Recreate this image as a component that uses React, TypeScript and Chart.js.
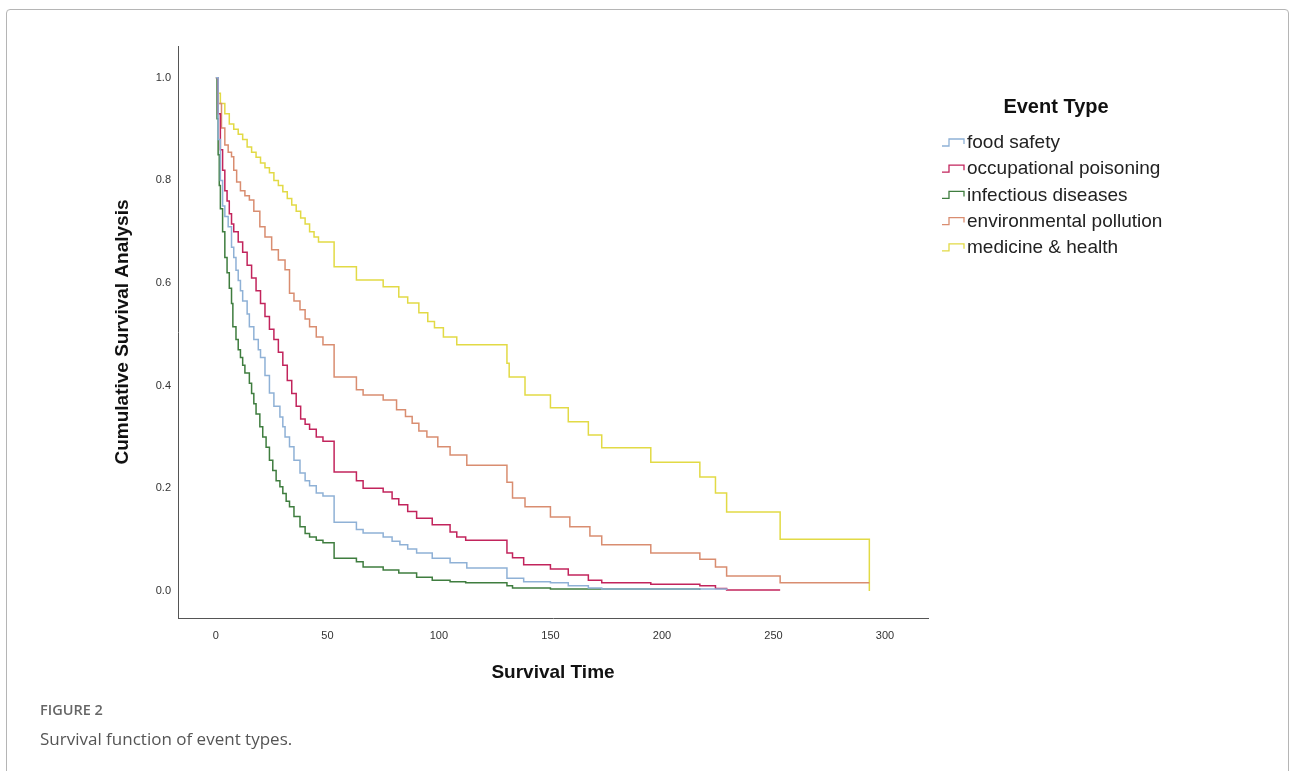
import React, { useEffect, useRef } from 'react';
import { Chart, registerables } from 'chart.js';

Chart.register(...registerables);

const seriesLabels = ['food safety', 'occupational poisoning', 'infectious diseases', 'environmental pollution', 'medicine & health'];
const seriesColors = ['#8fb1d6', '#c2245c', '#3f7d3f', '#d98d70', '#e2da45'];
const legendTitle = 'Event Type';
const xTitle = 'Survival Time';
const yTitle = 'Cumulative Survival Analysis';

const xTicks = [0, 50, 100, 150, 200, 250, 300];
const yTicks = [0, 0.2, 0.4, 0.6, 0.8, 1.0];

// food safety
const foodTime = [0, 1, 2, 3, 4, 5.5, 7, 8, 9, 10, 11, 12, 14, 15, 17, 19, 20, 22, 24, 26, 28.7, 30, 31, 33, 35, 37.7, 40, 42, 45, 48, 53, 63, 66, 75, 79, 82.5, 86, 90, 97, 105, 112.5, 130.5, 138, 150, 158, 167, 173, 229];
const foodSurv = [1.0, 0.88, 0.8, 0.75, 0.73, 0.71, 0.67, 0.65, 0.625, 0.605, 0.585, 0.565, 0.54, 0.515, 0.49, 0.47, 0.455, 0.42, 0.386, 0.36, 0.339, 0.32, 0.3, 0.281, 0.255, 0.23, 0.215, 0.205, 0.191, 0.185, 0.134, 0.12, 0.113, 0.105, 0.097, 0.09, 0.082, 0.074, 0.064, 0.055, 0.045, 0.025, 0.018, 0.016, 0.01, 0.006, 0.004, 0.002];

// occupational poisoning
const occTime = [0, 1, 2, 3, 4, 5, 6, 7, 8, 10, 12, 14, 16, 18, 20, 22, 24, 26, 28, 30, 32, 34, 36, 38, 40, 42, 45, 48, 53, 63, 66, 75, 79, 82, 86, 90, 97, 105, 108, 112, 130.5, 133, 138, 150, 158, 167, 173, 195, 217, 224, 229, 253];
const occSurv = [1.0, 0.93, 0.86, 0.82, 0.78, 0.76, 0.735, 0.715, 0.7, 0.68, 0.66, 0.635, 0.61, 0.585, 0.56, 0.535, 0.51, 0.49, 0.465, 0.44, 0.41, 0.385, 0.36, 0.335, 0.325, 0.315, 0.3, 0.292, 0.232, 0.215, 0.2, 0.193, 0.18, 0.168, 0.155, 0.142, 0.129, 0.115, 0.105, 0.099, 0.074, 0.065, 0.051, 0.043, 0.031, 0.021, 0.016, 0.013, 0.01, 0.005, 0.002, 0.002];

// infectious diseases
const infTime = [0, 0.5, 1, 1.5, 2, 3, 4, 5, 6, 7, 7.6, 9, 10, 11, 12, 13, 15, 16, 17, 18, 19.7, 21, 22.5, 24, 25.5, 27, 28.7, 30, 31.5, 33, 35, 37.7, 40, 42, 45, 48, 53, 63, 66, 75, 82, 90, 97, 105, 112, 130.5, 133, 150, 217];
const infSurv = [1.0, 0.92, 0.85, 0.79, 0.745, 0.7, 0.65, 0.62, 0.59, 0.56, 0.515, 0.49, 0.47, 0.455, 0.44, 0.425, 0.405, 0.385, 0.365, 0.345, 0.32, 0.3, 0.28, 0.255, 0.235, 0.215, 0.203, 0.19, 0.175, 0.164, 0.145, 0.125, 0.112, 0.105, 0.099, 0.094, 0.064, 0.057, 0.047, 0.041, 0.035, 0.027, 0.021, 0.018, 0.016, 0.01, 0.006, 0.004, 0.002];

// environmental pollution
const envTime = [0, 1, 2.5, 4, 5.5, 7, 8, 9.3, 11, 13, 15, 17, 19.7, 22, 25, 28, 31, 33, 35, 37.7, 40, 42, 45, 48, 53, 63, 66, 75, 81, 85, 88, 91, 94.6, 99.5, 105, 112.5, 130.5, 133, 138.6, 150, 158.7, 167.7, 173, 195, 217, 224, 229, 253, 293];
const envSurv = [1.0, 0.95, 0.902, 0.869, 0.855, 0.846, 0.82, 0.797, 0.78, 0.77, 0.762, 0.74, 0.71, 0.69, 0.665, 0.645, 0.626, 0.58, 0.565, 0.548, 0.53, 0.515, 0.495, 0.48, 0.417, 0.392, 0.382, 0.372, 0.353, 0.34, 0.327, 0.312, 0.3, 0.281, 0.265, 0.245, 0.212, 0.181, 0.164, 0.144, 0.125, 0.107, 0.09, 0.074, 0.062, 0.047, 0.029, 0.016, 0.016];

// medicine & health
const medTime = [0, 1, 2, 4, 6, 8, 10, 12, 14, 16, 18, 20, 22, 24, 26, 28, 30, 32, 34, 36, 38, 40, 42, 44, 46, 53, 63, 75, 82, 86, 91, 95, 98, 102, 108, 130.5, 131.5, 138.6, 150, 158, 167, 173, 195, 217, 224, 229, 253, 293];
const medSurv = [1.0, 0.97, 0.95, 0.93, 0.91, 0.9, 0.89, 0.88, 0.865, 0.855, 0.845, 0.834, 0.825, 0.815, 0.8, 0.79, 0.778, 0.765, 0.752, 0.74, 0.727, 0.715, 0.7, 0.69, 0.68, 0.632, 0.606, 0.593, 0.573, 0.561, 0.542, 0.525, 0.513, 0.495, 0.48, 0.444, 0.417, 0.382, 0.357, 0.33, 0.304, 0.279, 0.251, 0.222, 0.191, 0.154, 0.101, 0.0];

const seriesTimes = [foodTime, occTime, infTime, envTime, medTime];
const seriesSurv = [foodSurv, occSurv, infSurv, envSurv, medSurv];

const FONT = '"Liberation Sans", Arial, sans-serif';

const stepLegend = {
  id: 'stepLegend',
  afterDraw(chart: any) {
    const ctx = chart.ctx;
    const area = chart.chartArea;
    const x0 = area.right + 14;
    ctx.save();
    ctx.fillStyle = '#111';
    ctx.font = `bold 20px ${FONT}`;
    ctx.textAlign = 'center';
    ctx.textBaseline = 'middle';
    ctx.fillText(legendTitle, x0 + 114, area.top + 61);
    chart.data.datasets.forEach((ds: any, i: number) => {
      const y = area.top + 97 + i * 26.2;
      ctx.strokeStyle = ds.borderColor;
      ctx.lineWidth = 1.3;
      ctx.beginPath();
      ctx.moveTo(x0, y + 3);
      ctx.lineTo(x0 + 7, y + 3);
      ctx.lineTo(x0 + 7, y - 4);
      ctx.lineTo(x0 + 22, y - 4);
      ctx.lineTo(x0 + 22, y + 1);
      ctx.stroke();
      ctx.fillStyle = '#222';
      ctx.font = `19px ${FONT}`;
      ctx.textAlign = 'left';
      ctx.fillText(ds.label, x0 + 25, y);
    });
    ctx.restore();
  },
};

export default function App() {
  const canvasRef = useRef<HTMLCanvasElement | null>(null);

  useEffect(() => {
    const canvas = canvasRef.current;
    if (!canvas) return;
    const datasets = seriesLabels.map((label, i) => ({
      label,
      data: seriesTimes[i].map((t, j) => ({ x: t, y: seriesSurv[i][j] })),
      borderColor: seriesColors[i],
      backgroundColor: seriesColors[i],
      borderWidth: 1.5,
      pointRadius: 0,
      stepped: 'before' as const,
      fill: false,
    }));
    const chart = new Chart(canvas, {
      type: 'line',
      data: { datasets },
      options: {
        responsive: false,
        animation: false,
        devicePixelRatio: 1,
        layout: { padding: { left: 107, top: 46, right: 364, bottom: 83 } },
        plugins: { legend: { display: false }, tooltip: { enabled: false } },
        scales: {
          x: {
            type: 'linear',
            min: -17,
            max: 319.3,
            afterBuildTicks: (s: any) => { s.ticks = xTicks.map((v) => ({ value: v })); },
            afterFit: (s: any) => { s.height = 70; },
            grid: { display: false, drawTicks: false },
            border: { display: true, color: '#555', width: 1 },
            ticks: { color: '#333', font: { family: FONT, size: 11 }, padding: 11, maxRotation: 0, callback: (v: any) => String(v) },
            title: { display: true, text: xTitle, color: '#111', font: { family: FONT, size: 19, weight: 'bold' }, padding: 4 },
          },
          y: {
            type: 'linear',
            min: -0.0526,
            max: 1.062,
            afterBuildTicks: (s: any) => { s.ticks = yTicks.map((v) => ({ value: v })); },
            afterFit: (s: any) => { s.width = 71; },
            grid: { display: false, drawTicks: false },
            border: { display: true, color: '#555', width: 1 },
            ticks: { color: '#333', font: { family: FONT, size: 11 }, padding: 7, callback: (v: any) => Number(v).toFixed(1) },
            title: { display: true, text: yTitle, color: '#111', font: { family: FONT, size: 19, weight: 'bold' }, padding: 4 },
          },
        },
      },
      plugins: [stepLegend],
    });
    return () => chart.destroy();
  }, []);

  return (
    <div style={{ position: 'fixed', left: 0, top: 0, width: 1292, height: 771, background: '#fff', overflow: 'hidden' }}>
      <div style={{ position: 'absolute', left: 6, top: 9, width: 1283, height: 800, border: '1px solid #b5b5b5', borderRadius: 4, boxSizing: 'border-box' }} />
      <canvas ref={canvasRef} width={1292} height={771} style={{ position: 'absolute', left: 0, top: 0, width: 1292, height: 771 }} />
      <div style={{ position: 'absolute', left: 40, top: 700, fontFamily: '"Open Sans", sans-serif', fontSize: 14.5, fontWeight: 600, color: '#666', lineHeight: '20px' }}>FIGURE 2</div>
      <div style={{ position: 'absolute', left: 40, top: 728, fontFamily: '"Open Sans", sans-serif', fontSize: 17, color: '#555', lineHeight: '22px' }}>Survival function of event types.</div>
    </div>
  );
}
